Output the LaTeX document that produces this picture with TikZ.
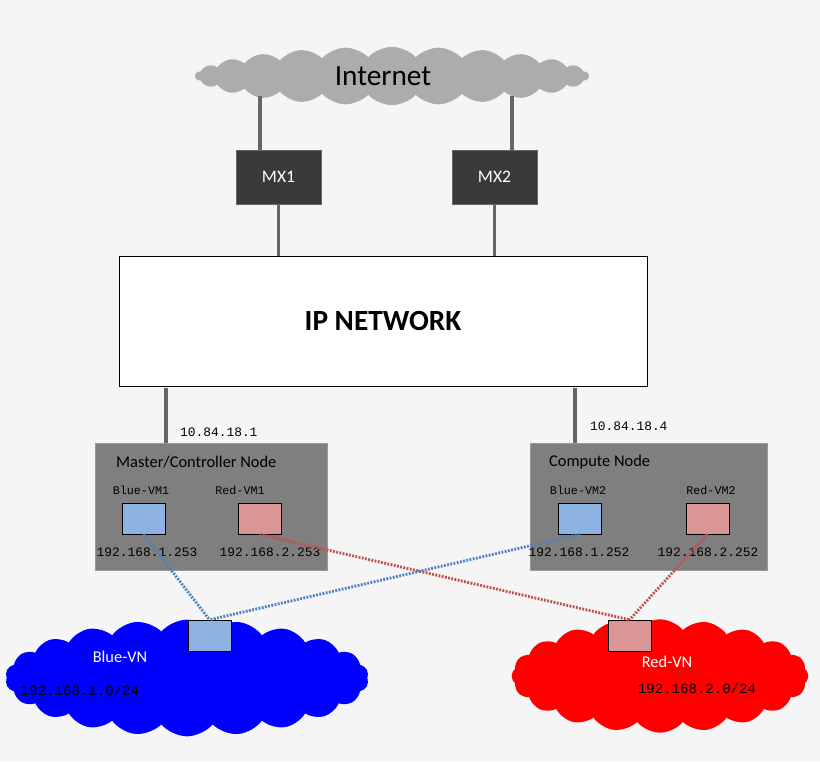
\documentclass[tikz,border=0pt]{standalone}
\usepackage{fontspec}
\setmainfont{Carlito}
\newfontfamily\monof{Liberation Mono}
\usetikzlibrary{shapes.symbols}
\definecolor{bg}{HTML}{F5F5F5}
\definecolor{dk}{HTML}{3A3A3A}
\definecolor{nodegray}{HTML}{7F7F7F}
\definecolor{vmblue}{HTML}{8DB3E2}
\definecolor{vmred}{HTML}{D99694}
\definecolor{lnblue}{HTML}{4F81BD}
\definecolor{lnred}{HTML}{C0504D}
\begin{document}
\begin{tikzpicture}[x=0.03cm,y=-0.03cm,
  link/.style={draw=gray!80!black,line width=2.6pt},
  mx/.style={draw=black!60,fill=dk,text=white,minimum width=2.55cm,minimum height=1.62cm,inner sep=0pt,font=\fontsize{15}{15}\selectfont},
  host/.style={draw=black!40,fill=nodegray,minimum width=#1,minimum height=3.81cm,inner sep=0pt},
  vm/.style={draw=black,fill=#1,minimum width=1.29cm,minimum height=0.93cm,inner sep=0pt},
  mono/.style={font=\monof\fontsize{11}{11}\selectfont},
  lbl/.style={font=\fontsize{14}{14}\selectfont},
  dotl/.style={line width=2.4pt,dash pattern=on 1.6pt off 1.2pt,#1}]
\fill[bg] (0,0) rectangle (820,761);
\useasboundingbox (0,0) rectangle (820,761);
% Internet
\node[cloud,cloud puffs=26,cloud puff arc=95,aspect=7,fill=gray!65,draw=none,minimum width=11.8cm,minimum height=1.75cm] (inet) at (392,76) {};
\node[font=\fontsize{25}{25}\selectfont] (inett) at (383,76) {Internet};
\node[mx] (mx1) at (278.5,177) {MX1};
\node[mx] (mx2) at (494.5,177) {MX2};
\node[draw=black,fill=white,minimum width=15.84cm,minimum height=3.9cm,inner sep=0pt,font=\bfseries\fontsize{25}{25}\selectfont] (ipn) at (383,321) {IP NETWORK};
\coordinate (c1) at (260,96); \coordinate (c2) at (512,96);
\draw[link] (c1) -- (c1|-mx1.north);
\draw[link] (c2) -- (c2|-mx2.north);
\draw[link] (mx1.south) -- (mx1.south|-ipn.north);
\draw[link] (mx2.south) -- (mx2.south|-ipn.north);
% hosts
\node[host=6.96cm] (mst) at (211,506.5) {};
\node[host=7.11cm] (cmp) at (648.5,506.5) {};
\coordinate (h1) at (166,388); \coordinate (h2) at (575,388);
\draw[link] (h1) -- (h1|-mst.north);
\draw[link] (h2) -- (h2|-cmp.north);
\node[mono,anchor=west] (ip1) at (176,432) {10.84.18.1};
\node[mono,anchor=west] (ip4) at (586,426) {10.84.18.4};
\node[lbl,anchor=west] (mstt) at (112,462) {Master/Controller Node};
\node[lbl,anchor=west] (cmpt) at (545,462) {Compute Node};
\node[vm=vmblue] (b1) at (143.5,518.5) {};
\node[vm=vmred] (r1) at (259.5,518.5) {};
\node[vm=vmblue] (b2) at (580,518.5) {};
\node[vm=vmred] (r2) at (707.5,518.5) {};
\node[mono,font=\monof\fontsize{10}{10}\selectfont] (b1t) at (141,490) {Blue-VM1};
\node[mono,font=\monof\fontsize{10}{10}\selectfont] (r1t) at (240,490) {Red-VM1};
\node[mono,font=\monof\fontsize{10}{10}\selectfont] (b2t) at (578,490) {Blue-VM2};
\node[mono,font=\monof\fontsize{10}{10}\selectfont] (r2t) at (711,490) {Red-VM2};
\node[mono] (b1i) at (147,552) {192.168.1.253};
\node[mono] (r1i) at (270,552) {192.168.2.253};
\node[mono] (b2i) at (579,552) {192.168.1.252};
\node[mono] (r2i) at (708,552) {192.168.2.252};
% VN clouds
\node[cloud,cloud puffs=22,cloud puff arc=100,aspect=3,fill=blue,draw=none,minimum width=10.9cm,minimum height=3.5cm] (bvn) at (187,678) {};
\node[cloud,cloud puffs=20,cloud puff arc=100,aspect=2.6,fill=red,draw=none,minimum width=8.9cm,minimum height=3.4cm] (rvn) at (660,676) {};
\node[vm=vmblue] (bs) at (209.5,635.5) {};
\node[vm=vmred] (rs) at (629.5,635.5) {};
\node[lbl,text=white] (bvnt) at (120,657) {Blue-VN};
\node[mono,font=\monof\fontsize{12}{12}\selectfont] (bvni) at (80,690) {192.168.1.0/24};
\node[lbl,text=white] (rvnt) at (667,662) {Red-VN};
\node[mono,font=\monof\fontsize{12}{12}\selectfont] (rvni) at (697,688) {192.168.2.0/24};
% virtual links
\draw[dotl=lnred] (r1.south) -- (rs.north);
\draw[dotl=lnred] (r2.south) -- (rs.north);
\draw[dotl=lnblue] (b1.south) -- (bs.north);
\draw[dotl=lnblue] (b2.south) -- (bs.north);
\end{tikzpicture}
\end{document}
